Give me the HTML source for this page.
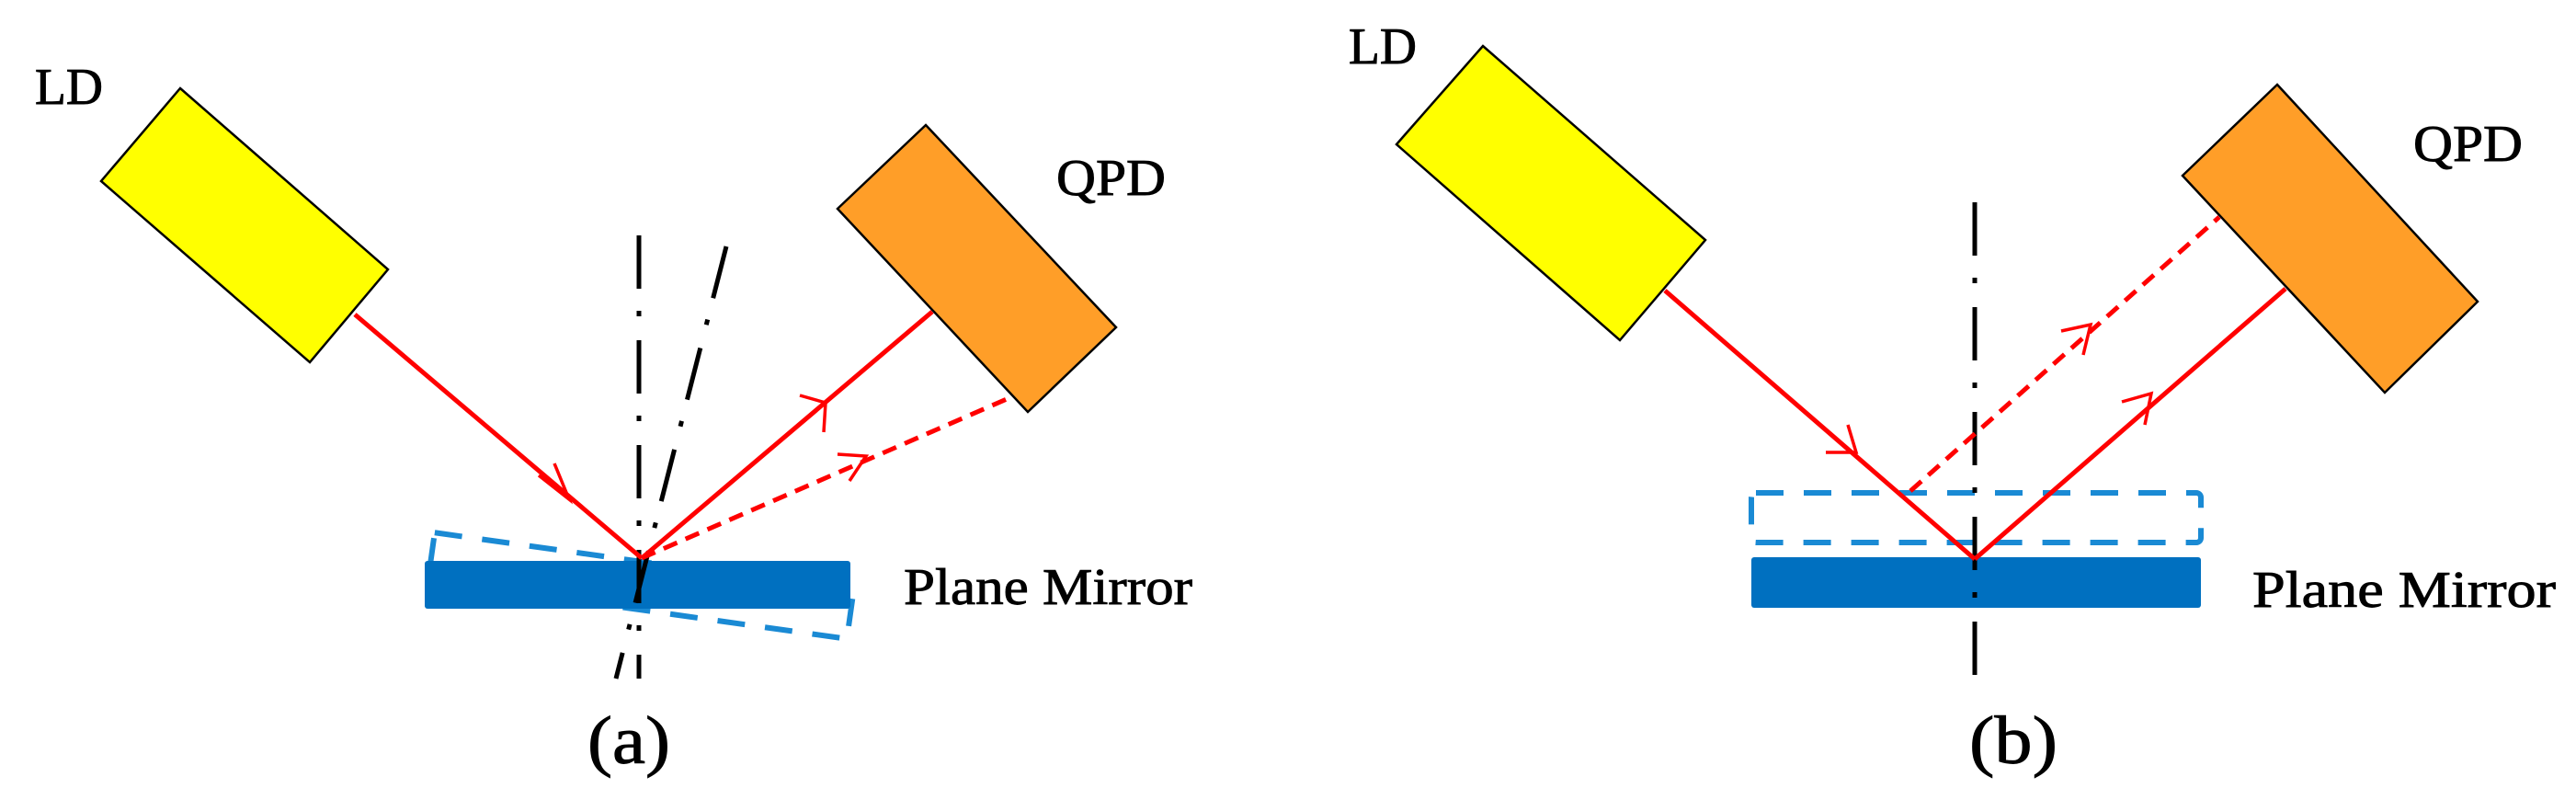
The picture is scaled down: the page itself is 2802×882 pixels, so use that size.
<!DOCTYPE html>
<html><head><style>
body{margin:0;background:#fff;}
svg{display:block;}
text{font-family:"Liberation Serif",serif;fill:#000;stroke:#000;stroke-width:0.9;}
</style></head><body>
<svg width="2802" height="882" viewBox="0 0 2802 882" xmlns="http://www.w3.org/2000/svg">
<!-- Panel a -->
<polygon points="196,96 422,293 337,394 110,197" fill="#ffff00" stroke="#000" stroke-width="2.5"/>
<polygon points="1007,136 1214,356 1118,448 911,227" fill="#ff9e28" stroke="#000" stroke-width="2.5"/>
<g transform="rotate(8 697 637)">
<rect x="467" y="611" width="460" height="52" fill="none" stroke="#1a8ad4" stroke-width="6" stroke-dasharray="30,22"/>
</g>
<rect x="462" y="610" width="463" height="52" rx="3" fill="#0070c0"/>
<line x1="695" y1="256" x2="695" y2="738" stroke="#000" stroke-width="5" stroke-dasharray="58,24,6,26"/>
<line x1="790" y1="268" x2="670" y2="738" stroke="#000" stroke-width="5" stroke-dasharray="58,24,6,26"/>
<line x1="386" y1="342" x2="698" y2="607" stroke="#ff0000" stroke-width="5"/>
<path d="M586,517 L619,543 L603,504" fill="none" stroke="#ff0000" stroke-width="3.5"/>
<line x1="698" y1="607" x2="1014" y2="339" stroke="#ff0000" stroke-width="5"/>
<path d="M870,430 L898,438 L896,470" fill="none" stroke="#ff0000" stroke-width="3.5"/>
<line x1="698" y1="607" x2="1095" y2="434" stroke="#ff0000" stroke-width="5" stroke-dasharray="16,10"/>
<path d="M911,494 L942,496 L924,523" fill="none" stroke="#ff0000" stroke-width="3.5"/>
<text x="38" y="113" font-size="56" textLength="74" lengthAdjust="spacingAndGlyphs">LD</text>
<text x="1149" y="212" font-size="56" textLength="119" lengthAdjust="spacingAndGlyphs">QPD</text>
<text x="983" y="657" font-size="56" textLength="314" lengthAdjust="spacingAndGlyphs">Plane Mirror</text>
<text x="639" y="830" font-size="74" textLength="90" lengthAdjust="spacingAndGlyphs">(a)</text>

<!-- Panel b -->
<polygon points="1613,50 1855,261 1762,370 1519,157" fill="#ffff00" stroke="#000" stroke-width="2.5"/>
<polygon points="2477,92 2695,328 2594,427 2374,191" fill="#ff9e28" stroke="#000" stroke-width="2.5"/>
<rect x="1905" y="536" width="489" height="54" rx="5" fill="none" stroke="#1a8ad4" stroke-width="6" stroke-dasharray="30,22"/>
<rect x="1905" y="606" width="489" height="55" rx="3" fill="#0070c0"/>
<line x1="2148" y1="220" x2="2148" y2="736" stroke="#000" stroke-width="5" stroke-dasharray="58,24,6,26"/>
<line x1="1811" y1="316" x2="2148" y2="608" stroke="#ff0000" stroke-width="5"/>
<path d="M1986,492 L2019,492 L2010,462" fill="none" stroke="#ff0000" stroke-width="3.5"/>
<line x1="2148" y1="608" x2="2486" y2="314" stroke="#ff0000" stroke-width="5"/>
<path d="M2308,437 L2340,428 L2333,462" fill="none" stroke="#ff0000" stroke-width="3.5"/>
<line x1="2078" y1="534" x2="2414" y2="236" stroke="#ff0000" stroke-width="5" stroke-dasharray="16,10"/>
<path d="M2242,360 L2274,353 L2266,386" fill="none" stroke="#ff0000" stroke-width="3.5"/>
<text x="1467" y="69" font-size="56" textLength="74" lengthAdjust="spacingAndGlyphs">LD</text>
<text x="2625" y="175" font-size="56" textLength="119" lengthAdjust="spacingAndGlyphs">QPD</text>
<text x="2450" y="660" font-size="56" textLength="330" lengthAdjust="spacingAndGlyphs">Plane Mirror</text>
<text x="2142" y="830" font-size="74" textLength="96" lengthAdjust="spacingAndGlyphs">(b)</text>
</svg>
</body></html>
